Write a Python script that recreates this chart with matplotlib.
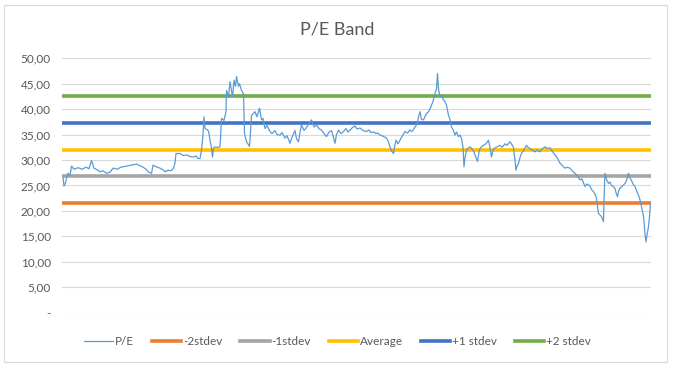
import matplotlib
matplotlib.use("Agg")
import matplotlib.pyplot as plt
from matplotlib.patches import Rectangle
from matplotlib.ticker import FuncFormatter

plt.rcParams['font.family'] = ['Lato', 'DejaVu Sans']

# trading day index and P/E
day = [2, 4, 7, 10, 12, 16, 19, 24, 32, 40, 48, 54, 59, 64, 70, 76, 82, 89, 96, 102,
       110, 118, 129, 138, 149, 156, 162, 168, 172, 179, 182, 188, 196, 202, 206, 212, 218, 223, 226, 228,
       236, 242, 249, 256, 263, 268, 272, 276, 279, 282, 284, 286, 290, 293, 296, 298, 301, 303, 306, 312,
       316, 319, 324, 328, 329, 333, 336, 341, 344, 347, 349, 353, 355, 359, 363, 365, 369, 375, 377, 379,
       386, 390, 395, 399, 402, 406, 410, 416, 420, 426, 430, 436, 440, 446, 450, 456, 460, 466, 469, 473,
       476, 479, 484, 489, 494, 499, 504, 509, 514, 519, 524, 529, 534, 539, 542, 546, 549, 553, 558, 563,
       568, 572, 576, 580, 586, 590, 596, 602, 609, 614, 618, 623, 628, 632, 636, 642, 649, 652, 656, 659,
       663, 665, 668, 672, 676, 681, 686, 691, 696, 700, 706, 710, 713, 716, 719, 723, 728, 733, 736, 739,
       742, 746, 749, 751, 753, 756, 759, 763, 766, 769, 773, 776, 779, 782, 786, 789, 793, 796, 799, 802,
       804, 806, 809, 812, 816, 820, 823, 826, 831, 834, 836, 839, 843, 848, 853, 856, 859, 862, 866, 870,
       876, 880, 886, 890, 896, 900, 903, 906, 908, 910, 913, 916, 919, 924, 929, 932, 936, 940, 946, 950,
       956, 960, 966, 970, 976, 980, 986, 990, 996, 1000, 1006, 1010, 1016, 1020, 1026, 1030, 1036, 1040, 1046, 1050,
       1056, 1059, 1063, 1066, 1069, 1071, 1073, 1076, 1079, 1083, 1084, 1086, 1089, 1093, 1096, 1099, 1103, 1106, 1108, 1111,
       1113, 1116, 1120, 1126, 1130, 1133, 1136, 1139, 1142, 1146, 1149, 1153, 1156, 1159, 1162, 1164, 1166, 1168, 1170, 1173,
       1175, 1177]
pe = [26.5, 24.9, 25.5, 27.0, 27.4, 27.0, 28.8, 28.2, 28.5, 28.2, 28.6, 28.3, 29.9, 28.4, 28.1, 27.7, 27.9, 27.4, 27.6, 28.4,
      28.2, 28.6, 28.8, 29.0, 29.2, 28.9, 28.6, 28.2, 27.7, 27.4, 29.0, 28.7, 28.4, 28.1, 27.7, 28.0, 27.9, 28.4, 29.5, 31.3,
      31.3, 30.9, 31.0, 30.7, 30.6, 30.8, 30.3, 30.3, 32.0, 35.0, 38.5, 36.2, 36.0, 35.7, 33.9, 33.0, 30.6, 32.4, 32.6, 32.5,
      32.6, 38.2, 37.8, 39.5, 43.7, 42.4, 45.4, 42.4, 45.7, 44.5, 46.4, 44.5, 45.0, 43.7, 43.0, 35.2, 33.6, 32.7, 35.5, 38.8,
      39.5, 38.5, 40.2, 37.9, 38.2, 36.2, 36.8, 35.6, 35.2, 35.8, 35.0, 34.9, 35.4, 34.3, 34.8, 33.3, 34.5, 35.8, 34.2, 33.6,
      35.5, 36.9, 35.8, 36.4, 37.2, 37.9, 36.5, 36.9, 36.2, 35.9, 35.2, 34.6, 35.5, 35.8, 34.8, 33.3, 35.0, 35.9, 35.2, 35.6,
      36.2, 35.5, 35.9, 36.3, 36.7, 36.1, 36.3, 35.8, 35.6, 35.9, 35.4, 35.5, 35.2, 35.3, 34.9, 34.7, 34.3, 33.8, 32.6, 31.8,
      31.3, 32.5, 33.9, 33.2, 33.9, 34.8, 35.6, 35.3, 35.9, 35.6, 36.5, 37.0, 38.5, 39.5, 38.0, 37.9, 39.0, 39.5, 40.0, 40.8,
      41.5, 43.1, 44.0, 47.0, 44.0, 42.4, 42.9, 41.8, 41.5, 40.8, 38.8, 38.0, 36.5, 36.0, 34.9, 35.5, 34.6, 34.9, 34.3, 32.5,
      28.7, 30.5, 32.0, 32.3, 32.6, 32.2, 31.8, 31.0, 29.7, 31.5, 32.2, 32.6, 32.9, 33.2, 33.9, 32.5, 30.6, 31.8, 32.4, 32.6,
      32.9, 32.5, 33.2, 32.9, 33.6, 33.0, 32.5, 30.0, 28.0, 28.8, 29.3, 30.5, 31.3, 32.0, 32.9, 32.5, 32.3, 32.0, 31.6, 32.0,
      31.6, 32.2, 32.6, 32.3, 32.4, 31.8, 31.0, 30.5, 29.4, 29.0, 28.4, 28.6, 28.4, 27.9, 27.4, 27.0, 26.1, 26.3, 24.8, 25.3,
      24.9, 24.2, 23.8, 23.3, 22.5, 21.0, 19.5, 19.2, 18.9, 17.9, 22.0, 27.4, 26.2, 25.4, 25.7, 25.0, 24.8, 24.4, 23.6, 22.8,
      23.8, 24.5, 24.8, 25.4, 26.2, 27.4, 26.5, 26.0, 25.3, 24.8, 24.0, 23.1, 22.2, 20.8, 19.5, 18.2, 15.5, 13.9, 15.2, 16.9,
      18.8, 21.5]

band_names = ['-2stdev', '-1stdev', 'Average', '+1 stdev', '+2 stdev']
band_values = [21.6, 26.8, 32.0, 37.2, 42.5]
band_colors = ['#ED7D31', '#A5A5A5', '#FFC000', '#4472C4', '#70AD47']

fig = plt.figure(figsize=(6.75, 3.73), dpi=100)
ax = fig.add_axes([0.0919, 0.1617, 0.8725, 0.682])

ax.plot(day, pe, color='#5B9BD5', lw=0.9, label='P/E', zorder=4)
for name, v, c in zip(band_names, band_values, band_colors):
    ax.axhline(v, color=c, lw=2.6, label=name, zorder=3)

ax.set_xlim(0, 1178)
ax.set_ylim(0, 50)
ax.set_yticks(range(0, 51, 5))
ax.yaxis.set_major_formatter(FuncFormatter(
    lambda v, p: '-' if v == 0 else f'{v:.2f}'.replace('.', ',')))
ax.set_xticks([])
ax.grid(axis='y', color='#D9D9D9', lw=0.8)
ax.set_axisbelow(True)
for s in ax.spines.values():
    s.set_visible(False)
ax.tick_params(axis='y', length=0, labelsize=8.5, labelcolor='#595959', pad=8)

fig.text(0.5, 0.92, 'P/E Band', ha='center', va='center', fontsize=13, color='#595959')

fig.legend(loc='center', bbox_to_anchor=(0.5, 0.085), ncol=6, frameon=False,
           fontsize=8.5, handlelength=2.5, columnspacing=1.5, handletextpad=0.15,
           labelcolor='#595959')

fig.patches.append(Rectangle((0.006, 0.0295), 0.982, 0.957, transform=fig.transFigure,
                             fill=False, edgecolor='#D9D9D9', lw=0.8))

fig.savefig('out.png', dpi=100)
